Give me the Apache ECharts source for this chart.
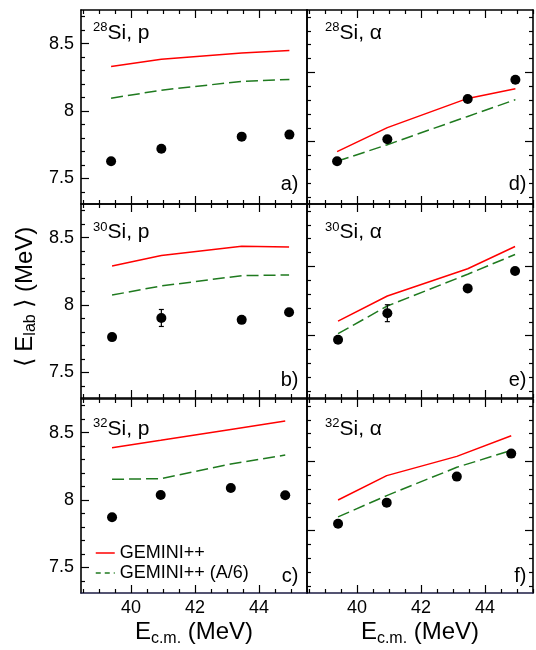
<!DOCTYPE html>
<html><head><meta charset="utf-8">
<script src="https://cdn.jsdelivr.net/npm/echarts@6/dist/echarts.min.js"></script>
<style>html,body{margin:0;padding:0;background:#fff}#c{width:536px;height:650px}</style>
</head><body><div id="c"></div>
<script>
// ---------------- data ----------------
const xTickMajor = [40, 42, 44];
const xTickMinor = [38.5, 39, 39.5, 40.5, 41, 41.5, 42.5, 43, 43.5, 44.5, 45, 45.5];
const yTickMajorP = [7.5, 8, 8.5];
const yTickMinorP = [7.4, 7.6, 7.7, 7.8, 7.9, 8.1, 8.2, 8.3, 8.4, 8.6, 8.7];
// alpha panels carry no tick labels in the original: relative scale
const yTickMajorA = [12.5, 13];
const yTickMinorA = [12.1, 12.2, 12.3, 12.4, 12.6, 12.7, 12.8, 12.9, 13.1, 13.2, 13.3, 13.4];

const ecm28 = [39.38, 40.95, 43.46, 44.95];
const ecm30 = [39.41, 40.95, 43.46, 44.94];
const ecm32 = [39.41, 40.93, 43.12, 44.82];

const p28Data = [7.627, 7.72, 7.81, 7.825];
const p28Gem = [8.33, 8.385, 8.43, 8.45];
const p28GemA6 = [8.095, 8.155, 8.22, 8.235];

const p30Data = [7.762, 7.904, 7.89, 7.946];
const p30Err = [0, 0.063, 0, 0];
const p30Gem = [8.29, 8.367, 8.436, 8.431];
const p30GemA6 = [8.074, 8.142, 8.218, 8.223];

const p32Data = [7.872, 8.037, 8.089, 8.035];
const p32Gem = [8.389, 8.443, 8.524, 8.586];
const p32GemA6 = [8.154, 8.159, 8.267, 8.334];

const a28Data = [12.358, 12.517, 12.808, 12.947];
const a28Gem = [12.428, 12.601, 12.812, 12.882];
const a28GemA6 = [12.358, 12.478, 12.682, 12.803];

const a30Data = [12.471, 12.662, 12.841, 12.967];
const a30Err = [0, 0.061, 0, 0];
const a30Gem = [12.605, 12.786, 12.983, 13.143];
const a30GemA6 = [12.514, 12.714, 12.943, 13.086];

const a32Data = [12.55, 12.702, 12.89, 13.056];
const a32Gem = [12.721, 12.897, 13.036, 13.185];
const a32GemA6 = [12.599, 12.753, 12.957, 13.079];

const seriesNames = ['GEMINI++', 'GEMINI++ (A/6)'];

// ---------------- layout / style ----------------
const FONT = "'Liberation Sans', Arial, Helvetica, sans-serif";
const X_MIN = 38.44, X_MAX = 45.5;
const Y_RANGE = { p: [7.31, 8.75], a: [12.05, 13.45] };
const colLeft = [81, 307], colWidth = 226;
const rowTop = [10, 204, 399], rowHeight = 194;
const titleY = [33.3, 232.5, 429];
const titleX = [93, 325];
const tagY = [184.5, 380.5, 576];
const tagX = [298.5, 526.5];

const panels = [
  { row: 0, col: 0, nuc: '28', part: 'p', tag: 'a)', x: ecm28, d: p28Data, e: null, g: p28Gem, g6: p28GemA6 },
  { row: 1, col: 0, nuc: '30', part: 'p', tag: 'b)', x: ecm30, d: p30Data, e: p30Err, g: p30Gem, g6: p30GemA6 },
  { row: 2, col: 0, nuc: '32', part: 'p', tag: 'c)', x: ecm32, d: p32Data, e: null, g: p32Gem, g6: p32GemA6 },
  { row: 0, col: 1, nuc: '28', part: 'a', tag: 'd)', x: ecm28, d: a28Data, e: null, g: a28Gem, g6: a28GemA6 },
  { row: 1, col: 1, nuc: '30', part: 'a', tag: 'e)', x: ecm30, d: a30Data, e: a30Err, g: a30Gem, g6: a30GemA6 },
  { row: 2, col: 1, nuc: '32', part: 'a', tag: 'f)', x: ecm32, d: a32Data, e: null, g: a32Gem, g6: a32GemA6 }
];

const grids = [], xAxes = [], yAxes = [], series = [], graphics = [];
const tickStyle = { color: '#000', width: 1.2 };

panels.forEach((p, i) => {
  grids.push({ left: colLeft[p.col], top: rowTop[p.row], width: colWidth, height: rowHeight,
    containLabel: false, outerBoundsMode: 'none' });
  const bottomColor = p.row === 2 ? '#1c1c44' : '#000';
  const mkX = (pos, ticks, len, showLine, showLabel) => ({
    type: 'value', gridIndex: i, position: pos, min: X_MIN, max: X_MAX,
    axisLine: { show: showLine, onZero: false, lineStyle: { color: pos === 'bottom' ? bottomColor : '#000', width: 1.6 } },
    axisTick: { show: true, inside: true, length: len, customValues: ticks, lineStyle: tickStyle },
    axisLabel: { show: showLabel, customValues: xTickMajor, color: '#000', fontSize: 18, fontFamily: FONT, margin: 6 },
    splitLine: { show: false }
  });
  const xb = xAxes.length;
  xAxes.push(mkX('bottom', xTickMajor, 8, true, p.row === 2));
  xAxes.push(mkX('bottom', xTickMinor, 4, false, false));
  xAxes.push(mkX('top', xTickMajor, 8, true, false));
  xAxes.push(mkX('top', xTickMinor, 4, false, false));

  const yr = Y_RANGE[p.part];
  const yMaj = p.part === 'p' ? yTickMajorP : yTickMajorA;
  const yMin = p.part === 'p' ? yTickMinorP : yTickMinorA;
  const mkY = (pos, ticks, len, showLine, showLabel, showTick) => ({
    type: 'value', gridIndex: i, position: pos, min: yr[0], max: yr[1],
    axisLine: { show: showLine, onZero: false, lineStyle: { color: '#000', width: 1.6 } },
    axisTick: { show: showTick, inside: true, length: len, customValues: ticks, lineStyle: tickStyle },
    axisLabel: { show: showLabel, customValues: yMaj, color: '#000', fontSize: 18, fontFamily: FONT, margin: 7 },
    splitLine: { show: false }
  });
  const yb = yAxes.length;
  yAxes.push(mkY('left', yMaj, 8, true, p.col === 0, true));
  yAxes.push(mkY('left', yMin, 4, false, false, true));
  if (p.col === 1) {
    yAxes.push(mkY('right', yMaj, 8, true, false, true));
    yAxes.push(mkY('right', yMin, 4, false, false, true));
  } else {
    yAxes.push(mkY('right', yMaj, 8, true, false, false));
  }

  series.push({
    type: 'line', name: seriesNames[0], xAxisIndex: xb, yAxisIndex: yb,
    data: p.x.map((v, j) => [v, p.g[j]]), symbol: 'none', color: '#ff0000',
    lineStyle: { color: '#ff0000', width: 1.5 }, z: 3, animation: false
  });
  series.push({
    type: 'line', name: seriesNames[1], xAxisIndex: xb, yAxisIndex: yb,
    data: p.x.map((v, j) => [v, p.g6[j]]), symbol: 'none', color: '#1f7a1f',
    lineStyle: { color: '#1f7a1f', width: 1.5, type: [12, 5] }, z: 3, animation: false
  });
  series.push({
    type: 'scatter', name: 'data', xAxisIndex: xb, yAxisIndex: yb,
    data: p.x.map((v, j) => [v, p.d[j]]), symbol: 'circle', symbolSize: 10,
    itemStyle: { color: '#000', opacity: 1 }, z: 4, animation: false
  });
  if (p.e) {
    series.push({
      type: 'custom', name: 'err', xAxisIndex: xb, yAxisIndex: yb, z: 4, animation: false,
      data: p.x.map((v, j) => [v, p.d[j], p.e[j]]).filter(r => r[2] > 0),
      renderItem: (params, api) => {
        const x = api.value(0), y = api.value(1), e = api.value(2);
        const t = api.coord([x, y + e]), b = api.coord([x, y - e]);
        const w = 2.5, st = { stroke: '#000', lineWidth: 1.2 };
        return { type: 'group', children: [
          { type: 'line', shape: { x1: t[0], y1: t[1], x2: b[0], y2: b[1] }, style: st },
          { type: 'line', shape: { x1: t[0] - w, y1: t[1], x2: t[0] + w, y2: t[1] }, style: st },
          { type: 'line', shape: { x1: b[0] - w, y1: b[1], x2: b[0] + w, y2: b[1] }, style: st }
        ]};
      }
    });
  }

  // panel title  e.g. 28Si, p
  graphics.push({
    type: 'text', x: titleX[p.col], y: titleY[p.row], z: 10,
    style: {
      text: '{s|' + p.nuc + '}{m|Si, ' + (p.part === 'p' ? 'p' : 'α') + '}',
      align: 'left', textAlign: 'left', verticalAlign: 'middle', textVerticalAlign: 'middle',
      fill: '#000', fontFamily: FONT,
      rich: {
        s: { fontSize: 13, lineHeight: 13, verticalAlign: 'top', fontFamily: FONT, fill: '#000' },
        m: { fontSize: 21, lineHeight: 24, fontFamily: FONT, fill: '#000' }
      }
    }
  });
  graphics.push({
    type: 'text', x: tagX[p.col], y: tagY[p.row], z: 10,
    style: { text: p.tag, fontSize: 20, fontFamily: FONT, fill: '#000',
      align: 'right', textAlign: 'right', verticalAlign: 'middle', textVerticalAlign: 'middle' }
  });
});

// axis titles
[194, 420].forEach(cx => {
  graphics.push({
    type: 'text', x: cx, y: 632.5, z: 10,
    style: {
      text: '{m|E}{s|c.m.}{m| (MeV)}', fill: '#000', fontFamily: FONT,
      align: 'center', textAlign: 'center', verticalAlign: 'middle', textVerticalAlign: 'middle',
      rich: {
        m: { fontSize: 24, lineHeight: 28, fontFamily: FONT, fill: '#000' },
        s: { fontSize: 16, lineHeight: 18, verticalAlign: 'bottom', fontFamily: FONT, fill: '#000' }
      }
    }
  });
});
graphics.push({
  type: 'text', x: 25, y: 297, rotation: Math.PI / 2, z: 10,
  style: {
    text: '{m|⟨ E}{s|lab}{m| ⟩ (MeV)}', fill: '#000', fontFamily: FONT,
    align: 'center', textAlign: 'center', verticalAlign: 'middle', textVerticalAlign: 'middle',
    rich: {
      m: { fontSize: 24, lineHeight: 28, fontFamily: FONT, fill: '#000' },
      s: { fontSize: 16, lineHeight: 18, verticalAlign: 'bottom', fontFamily: FONT, fill: '#000' }
    }
  }
});

const chart = echarts.init(document.getElementById('c'), null, { renderer: 'canvas' });
chart.setOption({
  animation: false,
  backgroundColor: '#fff',
  grid: grids,
  xAxis: xAxes,
  yAxis: yAxes,
  legend: {
    data: [
      { name: seriesNames[0], itemStyle: { opacity: 0, borderWidth: 0 }, lineStyle: { color: '#ff0000', width: 1.5 } },
      { name: seriesNames[1], itemStyle: { opacity: 0, borderWidth: 0 }, lineStyle: { color: '#1f7a1f', width: 1.5, type: [5, 4] } }
    ],
    orient: 'vertical', left: 95, top: 543, padding: 0, itemGap: 0,
    itemWidth: 19, itemHeight: 12, selectedMode: false,
    textStyle: { fontSize: 18, lineHeight: 20, fontFamily: FONT, color: '#000' }
  },
  series: series,
  graphic: { elements: graphics }
});
</script>
</body></html>
